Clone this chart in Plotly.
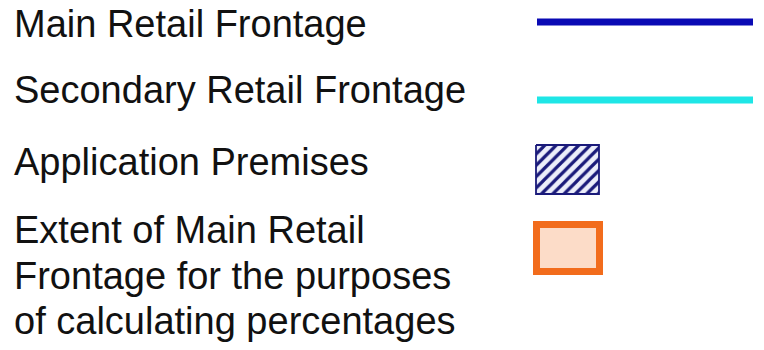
import plotly.graph_objects as go

# Legend entries (content)
labels = [
    ["Main Retail Frontage"],
    ["Secondary Retail Frontage"],
    ["Application Premises"],
    ["Extent of Main Retail", "Frontage for the purposes", "of calculating percentages"],
]
symbol_colors = ["#0a0ab4", "#1ee6e6", "#1a1a7a", "#f26c1c"]
symbol_fills = [None, None, "#eceefa", "#fcdcc8"]

W, H = 764, 350
FONT = 38
# baseline positions (px from top) for each text line
baselines = [[37], [103], [175], [243, 289, 334]]
TEXT_X = 12
# symbol geometry (px)
LINE_X = (537, 753)
LINE_Y = [22, 100]
HATCH_BOX = (536, 145, 599, 194)
ORANGE_BOX = (536.5, 224.5, 599.5, 271.5)

fig = go.Figure()

# line symbols
for i in range(2):
    fig.add_trace(go.Scatter(
        x=[LINE_X[0], LINE_X[1]], y=[LINE_Y[i], LINE_Y[i]],
        mode="lines", line=dict(color=symbol_colors[i], width=7),
        hoverinfo="skip", showlegend=False))

# hatched box
x0, y0, x1, y1 = HATCH_BOX
fig.add_trace(go.Scatter(
    x=[x0, x1, x1, x0, x0], y=[y0, y0, y1, y1, y0],
    mode="lines", fill="toself",
    fillpattern=dict(shape="/", fgcolor=symbol_colors[2], bgcolor=symbol_fills[2],
                     fgopacity=1, size=8, solidity=0.4),
    line=dict(color=symbol_colors[2], width=1.8),
    hoverinfo="skip", showlegend=False))

# orange box
x0, y0, x1, y1 = ORANGE_BOX
fig.add_shape(type="rect", x0=x0, y0=y0, x1=x1, y1=y1,
              line=dict(color=symbol_colors[3], width=7),
              fillcolor=symbol_fills[3], layer="above")

# text
for lines, bls in zip(labels, baselines):
    for txt, bl in zip(lines, bls):
        fig.add_annotation(
            x=TEXT_X, y=bl - FONT * 0.35, xref="x", yref="y",
            text=txt, showarrow=False, xanchor="left", yanchor="middle",
            font=dict(family="Liberation Sans, Arial, sans-serif", size=FONT, color="#111111"))

fig.update_layout(
    width=W, height=H,
    margin=dict(l=0, r=0, t=0, b=0),
    paper_bgcolor="white", plot_bgcolor="white",
    xaxis=dict(range=[0, W], visible=False, fixedrange=True),
    yaxis=dict(range=[H, 0], visible=False, fixedrange=True),
    showlegend=False,
    hovermode=False,
)

fig.write_html("out.html",
               config={"displayModeBar": False, "staticPlot": True},
               post_script="document.body.style.margin='0';document.body.style.overflow='hidden';")
